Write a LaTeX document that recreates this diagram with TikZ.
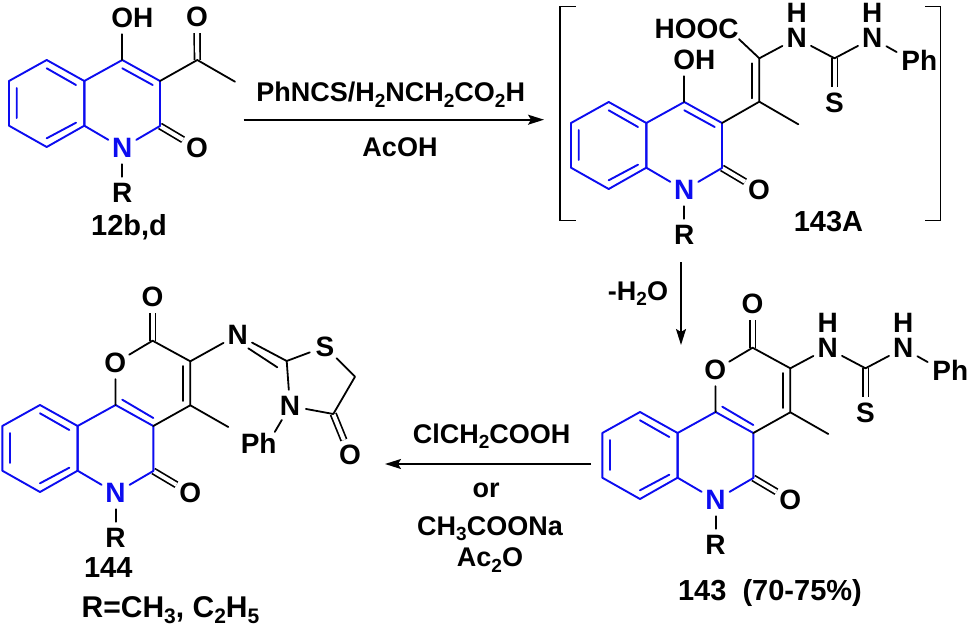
\documentclass[tikz,border=0pt]{standalone}
\usepackage{fontspec}
\setmainfont{Liberation Sans}
\usetikzlibrary{arrows.meta}
\definecolor{ringblue}{RGB}{12,12,240}
\newcommand{\sbs}[1]{\raisebox{-5.5pt}{\fontsize{19}{19}\selectfont #1}}
\newcommand{\sbl}[1]{\raisebox{-6pt}{\fontsize{21}{21}\selectfont #1}}
\tikzset{
  x=1pt,y=-1pt,
  every node/.style={font=\bfseries\fontsize{27}{27}\selectfont,inner sep=0pt,text=black},
  atomfont/.style={font=\bfseries\fontsize{28}{28}\selectfont},
  atom/.style={atomfont,circle,minimum size=32pt},
  natom/.style={atom,text=ringblue},
  lbl/.style={anchor=base,font=\bfseries\fontsize{29}{29}\selectfont},
  reag/.style={anchor=base},
  bond/.style={draw=black,line width=1.8pt,line cap=round,line join=round},
  bluebond/.style={draw=ringblue,line width=1.9pt,line cap=round,line join=round},
  dbond/.style={draw=black,line width=1.7pt,double=white,double distance=4pt},
  rxn/.style={draw=black,line width=1.6pt,-{Stealth[length=16pt,width=10pt,inset=3pt]}},
  brk/.style={draw=black,line width=1.5pt}
}
% #1 prefix, #2 dx, #3 dy, #4 and #5 ends of the inner C=C line
\newcommand{\quincore}[5]{
  \begin{scope}[shift={(#2,#3)}]
    \coordinate (#1T) at (46.7,60);
    \coordinate (#1TL) at (9,81);
    \coordinate (#1BL) at (9,125.7);
    \coordinate (#1B) at (46.7,147);
    \coordinate (#1Ca) at (84.3,125.7);
    \coordinate (#1Cb) at (84.3,81);
    \coordinate (#1Cc) at (122.3,60);
    \coordinate (#1Cd) at (160,81);
    \coordinate (#1Ce) at (160,126);
    \node[natom] (#1N) at (122.3,148) {N};
    \node[atom] (#1O) at (197,148) {O};
    \node[atom] (#1R) at (122.3,193) {R};
    \draw[dbond] (#1Ce) -- (#1O);
    \draw[bond] (#1N) -- (#1R);
    \draw[bluebond] (#1T) -- (#1TL) -- (#1BL) -- (#1B) -- (#1Ca) -- (#1Cb) -- cycle;
    \draw[bluebond] (#1Ca) -- (#1Cb) -- (#1Cc) -- (#1Cd) -- (#1Ce);
    \draw[bluebond] (#1Ca) -- (#1N) -- (#1Ce);
    \coordinate (#1ia) at (46.7,68.3);  \coordinate (#1ib) at (76,85);
    \coordinate (#1ic) at (16.7,88);    \coordinate (#1id) at (16.7,118);
    \coordinate (#1ie) at (46.7,138.3); \coordinate (#1if) at (76,122.7);
    \draw[bluebond] (#1ia) -- (#1ib) (#1ic) -- (#1id) (#1ie) -- (#1if);
    \coordinate (#1ig) at #4;  \coordinate (#1ih) at #5;
    \draw[bluebond] (#1ig) -- (#1ih);
  \end{scope}
}
% fused pyranone ring on a core
\newcommand{\pyranfuse}[3]{
  \begin{scope}[shift={(#2,#3)}]
    \node[atom] (#1Or) at (122,18) {O};
    \coordinate (#1Cf) at (159.3,-4.3);
    \node[atom] (#1Ot) at (159.3,-48) {O};
    \coordinate (#1Cg) at (197,16.3);
    \coordinate (#1Ch) at (197,60.3);
    \coordinate (#1Me) at (235,82);
    \draw[dbond] (#1Cf) -- (#1Ot);
    \draw[bond] (#1Cc) -- (#1Or) -- (#1Cf) -- (#1Cg) -- (#1Ch) -- (#1Cd);
    \draw[bond] (#1Ch) -- (#1Me);
    \coordinate (#1ii) at (189.3,21); \coordinate (#1ij) at (189.3,56);
    \draw[bond] (#1ii) -- (#1ij);
  \end{scope}
}
% thiourea chain, #2 dx, #3 dy, #4 attachment point
\newcommand{\thiourea}[4]{
  \begin{scope}[shift={(#2,#3)}]
    \node[atom] (#1Na) at (827.7,348.3) {N};
    \node[atomfont] (#1Ha) at (827.7,323.3) {H};
    \coordinate (#1Ct) at (865.5,368.3);
    \node[atom] (#1S) at (865.5,413.3) {S};
    \node[atom] (#1Nb) at (903.3,348.3) {N};
    \node[atomfont] (#1Hb) at (903.3,323.3) {H};
    \node[atom] (#1Ph) at (941.7,370) {P\rlap{h}};
    \draw[dbond] (#1Ct) -- (#1S);
    \draw[bond] (#4) -- (#1Na) -- (#1Ct) -- (#1Nb) -- (#1Ph);
  \end{scope}
}
\begin{document}
\begin{tikzpicture}
\useasboundingbox (0,0) rectangle (969,626);
\fill[white] (0,0) rectangle (969,626);

% --- 12b,d
\quincore{a}{0}{0}{(122.3,68.3)}{(152.7,85)}
\node[atom] (aOH) at (122.3,18) {O\rlap{H}};
\coordinate (aCk) at (197.3,60);
\coordinate (aMe) at (235,81.7);
\node[atom] (aOk) at (197,17) {O};
\draw[dbond] (aCk) -- (aOk);
\draw[bond] (aCc) -- (aOH);
\draw[bond] (aCd) -- (aCk) -- (aMe);
\node[lbl] (a12) at (129,235) {12b,d};

% --- 143A
\quincore{b}{562}{42}{(122.3,68.3)}{(152.7,85)}
\node[atom] (bOH) at (684.3,60) {O\rlap{H}};
\coordinate (bCa) at (759.3,101.7);
\coordinate (bCb) at (759.3,58.3);
\coordinate (bMe) at (798.3,124.3);
\node[atom,minimum size=22pt] (bHO) at (728.5,29.3) {\llap{HOO}C};
\coordinate (bia) at (752.3,63.3);
\coordinate (bib) at (752.3,98.3);
\draw[bond] (bCc) -- (bOH);
\draw[bond] (bCd) -- (bCa) -- (bCb) -- (bHO);
\draw[bond] (bCa) -- (bMe);
\draw[bond] (bia) -- (bib);
\thiourea{b}{-31}{-310}{bCb}
\node[lbl] (b143) at (828.5,231) {143A};
\coordinate (bLa) at (575.7,6.7);
\coordinate (bLb) at (560,6.7);
\coordinate (bLc) at (560,220.7);
\coordinate (bLd) at (575.7,220.7);
\coordinate (bRa) at (925,6.7);
\coordinate (bRb) at (940.7,6.7);
\coordinate (bRc) at (940.7,220.7);
\coordinate (bRd) at (925,220.7);
\draw[brk] (bLa) -- (bLb) -- (bLc) -- (bLd);
\draw[brk] (bRa) -- (bRb) -- (bRc) -- (bRd);

% --- 143
\quincore{c}{593.3}{352}{(129,54.7)}{(160,73)}
\pyranfuse{c}{593.3}{352}
\thiourea{c}{0}{0}{cCg}
\node[lbl] (c143) at (770,600) {143\ \ (70-75\%)};

% --- 144
\quincore{d}{-6.7}{345}{(129,54.7)}{(160,73)}
\pyranfuse{d}{-6.7}{345}
\node[atom] (dNi) at (237.7,335) {N};
\coordinate (dCt) at (286.7,361);
\node[atom] (dS) at (325,346.7) {S};
\coordinate (dCm) at (355,376.7);
\coordinate (dCo) at (333.3,414);
\node[atom] (dOt) at (350,455) {O};
\node[atom] (dNt) at (290,406) {N};
\node[atom,minimum size=20pt] (dPh) at (268,443.5) {\llap{P}h};
\coordinate (dia) at (248.3,348.3);
\coordinate (dib) at (277.3,367.3);
\draw[dbond] (dCo) -- (dOt);
\draw[bond] (dCg) -- (dNi) -- (dCt) -- (dS) -- (dCm) -- (dCo) -- (dNt) -- (dCt);
\draw[bond] (dNt) -- (dPh);
\draw[bond] (dia) -- (dib);
\node[lbl] (d144) at (108.3,577) {144};
\node[lbl,font=\bfseries\fontsize{30}{30}\selectfont] (dRR) at (170.5,617) {R=CH\sbl{3}, C\sbl{2}H\sbl{5}};

% --- arrows and reagents
\coordinate (p1) at (243.7,119.7);
\coordinate (p2) at (544,119.7);
\draw[rxn] (p1) -- (p2);
\node[reag] (r1) at (390.7,101.7) {PhNCS/H\sbs{2}NCH\sbs{2}CO\sbs{2}H};
\node[reag] (r2) at (400,156.7) {AcOH};
\coordinate (p3) at (681,262);
\coordinate (p4) at (681,345);
\draw[rxn] (p3) -- (p4);
\node[reag] (r3) at (638,300) {-H\sbs{2}O};
\coordinate (p5) at (591,464);
\coordinate (p6) at (385,464);
\draw[rxn] (p5) -- (p6);
\node[reag] (r4) at (491.7,443) {ClCH\sbs{2}COOH};
\node[reag] (r5) at (486,497) {or};
\node[reag] (r6) at (490,535) {CH\sbs{3}COONa};
\node[reag] (r7) at (490,566.7) {Ac\sbs{2}O};
\end{tikzpicture}
\end{document}
